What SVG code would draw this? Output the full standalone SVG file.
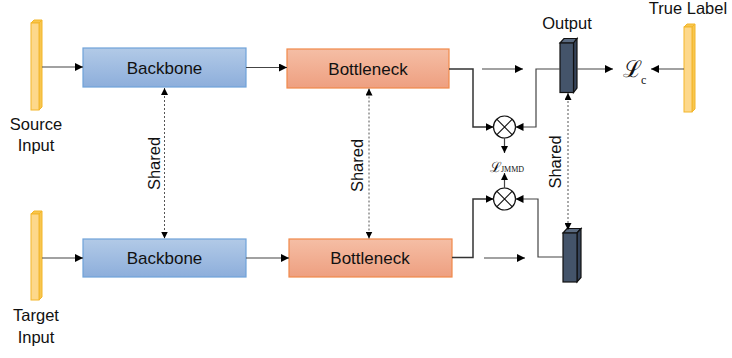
<svg xmlns="http://www.w3.org/2000/svg" width="732" height="358" viewBox="0 0 732 358">
  <defs>
    <linearGradient id="gBlue" x1="0" y1="0" x2="0" y2="1">
      <stop offset="0" stop-color="#b2cae7"/>
      <stop offset="1" stop-color="#8daedb"/>
    </linearGradient>
    <linearGradient id="gOrange" x1="0" y1="0" x2="0" y2="1">
      <stop offset="0" stop-color="#f5bea5"/>
      <stop offset="1" stop-color="#ee9f80"/>
    </linearGradient>
    <marker id="arr" viewBox="0 0 10 10" refX="10" refY="5" markerWidth="8" markerHeight="8" markerUnits="userSpaceOnUse" orient="auto-start-reverse">
      <path d="M0,0 L10,5 L0,10 z" fill="#000"/>
    </marker>
    <marker id="arrS" viewBox="0 0 10 10" refX="10" refY="5" markerWidth="7" markerHeight="7" markerUnits="userSpaceOnUse" orient="auto-start-reverse">
      <path d="M0,0 L10,5 L0,10 z" fill="#000"/>
    </marker>
  </defs>
  <style>
    .lbl { font-family: "Liberation Sans", Arial, sans-serif; font-size: 16.5px; fill: #111; }
    .box-lbl { font-family: "Liberation Sans", Arial, sans-serif; font-size: 17px; fill: #111; text-anchor: middle; }
    .mid { text-anchor: middle; }
    .backbone { fill: url(#gBlue); stroke: #6fa2d9; stroke-width: 1.2; }
    .bottleneck { fill: url(#gOrange); stroke: #f0894a; stroke-width: 1.2; }
    .bar-front { fill: #fdd88b; stroke: #f3b62a; stroke-width: 1; }
    .bar-side { fill: #f7c650; stroke: #f3b62a; stroke-width: 1; }
    .blk-front { fill: #44546a; stroke: #111; stroke-width: 1.2; }
    .blk-top { fill: #5a6a80; stroke: #111; stroke-width: 1.2; }
    .blk-side { fill: #36445a; stroke: #111; stroke-width: 1.2; }
    .wire { fill: none; stroke: #444; stroke-width: 1.2; }
    .wire-dk { fill: none; stroke: #333; stroke-width: 1.5; }
    .dotted { fill: none; stroke: #555; stroke-width: 1; stroke-dasharray: 2 2; }
    .op { fill: #fff; stroke: #111; stroke-width: 1.2; }
    .math { font-family: "DejaVu Serif", "Liberation Serif", serif; fill: #111; }
    .sub { font-family: "Liberation Serif", "Times New Roman", serif; fill: #111; }
  </style>

  <!-- input / label bars -->
  <g id="source-input">
    <polygon class="bar-side" points="39,23 42,20 42,107 39,110"/>
    <polygon class="bar-side" points="31,23 34,20 42,20 39,23"/>
    <rect class="bar-front" x="31" y="23" width="8" height="87"/>
    <text class="lbl mid" x="36" y="130">Source</text>
    <text class="lbl mid" x="36" y="151">Input</text>
  </g>
  <g id="target-input">
    <polygon class="bar-side" points="39,214 42,211 42,297 39,300"/>
    <polygon class="bar-side" points="31,214 34,211 42,211 39,214"/>
    <rect class="bar-front" x="31" y="214" width="8" height="86"/>
    <text class="lbl mid" x="36" y="321">Target</text>
    <text class="lbl mid" x="36" y="343">Input</text>
  </g>
  <g id="true-label">
    <polygon class="bar-side" points="692,27 695,24 695,109 692,112"/>
    <polygon class="bar-side" points="684,27 687,24 695,24 692,27"/>
    <rect class="bar-front" x="684" y="27" width="8" height="85"/>
    <text class="lbl mid" x="688" y="14">True Label</text>
  </g>

  <!-- feature extractors -->
  <g id="backbone-src">
    <rect class="backbone" x="83" y="48" width="163" height="39"/>
    <text class="box-lbl" x="164.5" y="73.5">Backbone</text>
  </g>
  <g id="bottleneck-src">
    <rect class="bottleneck" x="287" y="49" width="162" height="39"/>
    <text class="box-lbl" x="368" y="74.5">Bottleneck</text>
  </g>
  <g id="backbone-tgt">
    <rect class="backbone" x="83" y="239" width="163" height="38"/>
    <text class="box-lbl" x="164.5" y="264">Backbone</text>
  </g>
  <g id="bottleneck-tgt">
    <rect class="bottleneck" x="289" y="239" width="163" height="38"/>
    <text class="box-lbl" x="370" y="264">Bottleneck</text>
  </g>

  <!-- classifier outputs -->
  <g id="output-src">
    <polygon class="blk-top" points="560,43 564,38.5 577,38.5 573.5,43"/>
    <polygon class="blk-side" points="573.5,43 577,38.5 577,88 573.5,92.5"/>
    <rect class="blk-front" x="560" y="43" width="13.5" height="49.5"/>
    <text class="lbl mid" x="567" y="29">Output</text>
  </g>
  <g id="output-tgt">
    <polygon class="blk-top" points="563,233 567,228.5 581,228.5 577,233"/>
    <polygon class="blk-side" points="577,233 581,228.5 581,277.5 577,282"/>
    <rect class="blk-front" x="563" y="233" width="14" height="49"/>
  </g>

  <!-- product operators -->
  <g id="op-src">
    <circle class="op" cx="504.5" cy="127" r="11"/>
    <path class="op" d="M496.7,119.2 L512.3,134.8 M512.3,119.2 L496.7,134.8"/>
  </g>
  <g id="op-tgt">
    <circle class="op" cx="504.5" cy="199" r="11"/>
    <path class="op" d="M496.7,191.2 L512.3,206.8 M512.3,191.2 L496.7,206.8"/>
  </g>

  <!-- losses -->
  <g id="loss-jmmd">
    <text class="math" x="489.5" y="171.5" font-size="14">ℒ</text>
    <text class="sub" x="501" y="171.5" font-size="8">JMMD</text>
  </g>
  <g id="loss-c">
    <text class="math" x="623" y="77" font-size="23">ℒ</text>
    <text class="sub" x="641" y="83.5" font-size="12">c</text>
  </g>

  <!-- shared-weight labels -->
  <g id="shared-labels">
    <text class="lbl mid" transform="translate(159.5,163.5) rotate(-90)">Shared</text>
    <text class="lbl mid" transform="translate(363,165.5) rotate(-90)">Shared</text>
    <text class="lbl mid" transform="translate(561,162) rotate(-90)">Shared</text>
  </g>

  <g id="connectors">
    <line class="wire" x1="42" y1="67" x2="83" y2="67" marker-end="url(#arr)"/>
    <line class="wire" x1="246" y1="67.5" x2="287" y2="67.5" marker-end="url(#arr)"/>
    <line class="wire" x1="42" y1="258" x2="83" y2="258" marker-end="url(#arr)"/>
    <line class="wire" x1="246" y1="258" x2="289" y2="258" marker-end="url(#arr)"/>

    <polyline class="wire-dk" points="449,69 473,69 473,127 493.5,127" marker-end="url(#arr)"/>
    <line class="wire" x1="482" y1="69" x2="523" y2="69" marker-end="url(#arr)"/>
    <polyline class="wire" points="560,69 536,69 536,127 515.5,127" marker-end="url(#arr)"/>

    <polyline class="wire-dk" points="452,257.5 473,257.5 473,199 493.5,199" marker-end="url(#arr)"/>
    <line class="wire" x1="484" y1="258" x2="525" y2="258" marker-end="url(#arr)"/>
    <polyline class="wire" points="563,257 538,257 538,199 515.5,199" marker-end="url(#arr)"/>

    <line class="wire" x1="577" y1="69" x2="613" y2="69" marker-end="url(#arr)"/>
    <line class="wire" x1="684" y1="69" x2="651" y2="69" marker-end="url(#arr)"/>

    <line class="wire" x1="504.5" y1="138" x2="504.5" y2="153" marker-end="url(#arrS)"/>
    <line class="wire" x1="504.5" y1="188" x2="504.5" y2="173" marker-end="url(#arrS)"/>

    <line class="dotted" x1="164.5" y1="88" x2="164.5" y2="238.5" marker-start="url(#arrS)" marker-end="url(#arrS)"/>
    <line class="dotted" x1="369" y1="88.5" x2="369" y2="238.5" marker-start="url(#arrS)" marker-end="url(#arrS)"/>
    <line class="dotted" x1="568" y1="93" x2="568" y2="230" marker-start="url(#arrS)" marker-end="url(#arrS)"/>
  </g>
</svg>
